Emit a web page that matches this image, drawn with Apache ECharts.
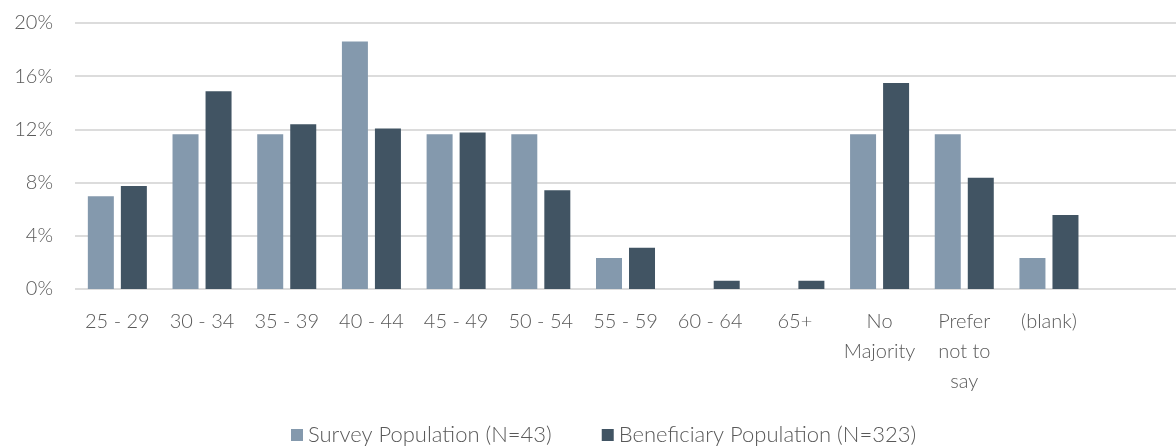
<!DOCTYPE html>
<html>
<head>
<meta charset="utf-8">
<script src="https://cdn.jsdelivr.net/npm/echarts@6/dist/echarts.min.js"></script>
<style>
  html, body { margin: 0; padding: 0; background: #ffffff; }
  #chart { width: 1176px; height: 446px; }
</style>
</head>
<body>
<div id="chart"></div>
<script>
// Age bands (the trailing empty slot leaves room at the right of the plot)
const categories = ['25 - 29', '30 - 34', '35 - 39', '40 - 44', '45 - 49', '50 - 54',
  '55 - 59', '60 - 64', '65+', 'No\nMajority', 'Prefer\nnot to\nsay', '(blank)', ''];

// Share of each population, in percent
const surveyValues = [6.98, 11.63, 11.63, 18.60, 11.63, 11.63, 2.33, 0, 0, 11.63, 11.63, 2.33, null];
const beneficiaryValues = [7.74, 14.86, 12.38, 12.07, 11.76, 7.43, 3.10, 0.62, 0.62, 15.48, 8.36, 5.57, null];

const seriesNames = ['Survey Population (N=43)', 'Beneficiary Population (N=323)'];
const yTicks = { min: 0, max: 20, interval: 4 };

const FONT = 'Lato';
const TEXT = '#595959';

const chart = echarts.init(document.getElementById('chart'), null, { renderer: 'canvas' });

chart.setOption({
  animation: false,
  textStyle: { fontFamily: FONT, fontWeight: 300 },
  grid: { left: 75, top: 23, width: 1105, height: 266, containLabel: false },
  legend: {
    left: 286,
    top: 419,
    itemWidth: 12,
    itemHeight: 12,
    itemGap: 50,
    icon: 'rect',
    textStyle: { fontFamily: FONT, fontWeight: 300, fontSize: 22, color: TEXT },
    data: seriesNames
  },
  xAxis: {
    type: 'category',
    data: categories,
    axisLine: { show: false },
    axisTick: { show: false },
    axisLabel: {
      interval: 0,
      margin: 18,
      fontFamily: FONT,
      fontWeight: 300,
      fontSize: 20,
      lineHeight: 30,
      color: TEXT
    }
  },
  yAxis: {
    type: 'value',
    min: yTicks.min,
    max: yTicks.max,
    interval: yTicks.interval,
    axisLine: { show: false },
    axisTick: { show: false },
    axisLabel: {
      margin: 22,
      fontFamily: FONT,
      fontWeight: 300,
      fontSize: 20,
      color: TEXT,
      formatter: v => v + '%'
    },
    splitLine: { lineStyle: { color: '#dcdcdc', width: 2 } }
  },
  series: [
    {
      name: seriesNames[0],
      type: 'bar',
      data: surveyValues,
      barWidth: 26,
      barGap: '27%',
      itemStyle: { color: '#8499ad' }
    },
    {
      name: seriesNames[1],
      type: 'bar',
      data: beneficiaryValues,
      barWidth: 26,
      barGap: '27%',
      itemStyle: { color: '#415463' }
    }
  ]
});
</script>
</body>
</html>
